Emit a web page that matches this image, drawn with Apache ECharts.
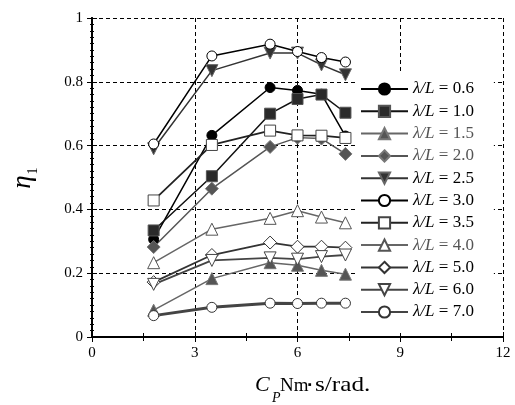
<!DOCTYPE html>
<head>
    <meta charset="utf-8">
    <title>ECharts</title>
</head>
<body style="margin:0">
   <div id="main" style="width:515px;height:405px"></div>
     <script src="https://cdn.jsdelivr.net/npm/echarts@6/dist/echarts.min.js"></script>
      <script type="text/javascript">

    // 横轴 C_P 取值
    var cp = [1.8, 3.5, 5.2, 6.0, 6.7, 7.4];
    var labels = ['0.6', '1.0', '1.5', '2.0', '2.5', '3.0', '3.5', '4.0', '5.0', '6.0', '7.0'];
    var eta06 = [0.306, 0.632, 0.782, 0.773, 0.761, 0.63];
    var eta10 = [0.334, 0.504, 0.700, 0.746, 0.760, 0.703];
    var eta15 = [0.084, 0.183, 0.233, 0.225, 0.209, 0.197];
    var eta20 = [0.282, 0.465, 0.596, 0.625, 0.622, 0.574];
    var eta25 = [0.590, 0.835, 0.890, 0.890, 0.853, 0.822];
    var eta30 = [0.605, 0.881, 0.918, 0.895, 0.876, 0.862];
    var eta35 = [0.428, 0.602, 0.647, 0.632, 0.631, 0.624];
    var eta40 = [0.233, 0.338, 0.372, 0.396, 0.376, 0.358];
    var eta50 = [0.172, 0.257, 0.296, 0.283, 0.283, 0.280];
    var eta60 = [0.165, 0.240, 0.248, 0.244, 0.252, 0.257];
    var eta70 = [0.067, 0.093, 0.106, 0.105, 0.106, 0.106];

    var font = '"Liberation Serif", "Times New Roman", serif';

    function pairs(ys) {
        return cp.map(function (x, i) { return [x, ys[i]]; });
    }

    // 每条曲线的样式
    var styles = [
        {d: eta06, line: '#000', fill: '#000', border: '#000', sym: 'circle', size: 10, rot: 0, w: 1.5, text: '#000'},
        {d: eta10, line: '#111', fill: '#2a2a2a', border: '#555', sym: 'rect', size: 11, rot: 0, w: 1.5, text: '#000'},
        {d: eta15, line: '#666', fill: '#555', border: '#777', sym: 'triangle', size: 12, rot: 0, w: 1.5, text: '#555'},
        {d: eta20, line: '#555', fill: '#555', border: '#777', sym: 'diamond', size: 13, rot: 0, w: 1.5, text: '#555'},
        {d: eta25, line: '#333', fill: '#333', border: '#666', sym: 'triangle', size: 12, rot: 180, w: 1.5, text: '#000'},
        {d: eta30, line: '#000', fill: '#fff', border: '#000', sym: 'circle', size: 10, rot: 0, w: 1.5, text: '#000'},
        {d: eta35, line: '#222', fill: '#fff', border: '#444', sym: 'rect', size: 11, rot: 0, w: 1.8, text: '#000'},
        {d: eta40, line: '#666', fill: '#fff', border: '#555', sym: 'triangle', size: 12, rot: 0, w: 1.5, text: '#555'},
        {d: eta50, line: '#333', fill: '#fff', border: '#333', sym: 'diamond', size: 13, rot: 0, w: 1.8, text: '#000'},
        {d: eta60, line: '#444', fill: '#fff', border: '#444', sym: 'triangle', size: 12, rot: 180, w: 1.8, text: '#000'},
        {d: eta70, line: '#444', fill: '#fff', border: '#333', sym: 'circle', size: 10, rot: 0, w: 3, text: '#000'}
    ];

    var series = [];
    var legendData = [];
    for (var i = 0; i < styles.length; i++) {
        var s = styles[i];
        var name = 'λ/L = ' + labels[i];
        series.push({
            name: name,
            type: 'line',
            data: pairs(s.d),
            symbol: s.sym,
            symbolSize: s.size,
            symbolRotate: s.rot,
            lineStyle: {color: s.line, width: s.w},
            itemStyle: {color: s.fill, borderColor: s.border, borderWidth: 1},
            emphasis: {disabled: true},
            animation: false
        });
        legendData.push({name: name, textStyle: {color: s.text}});
    }

    var myChart = echarts.init(document.getElementById("main"));
    var dashed = {show: true, lineStyle: {color: '#000', type: [4, 3], width: 1}};
    var option = {
        animation: false,
        grid: {left: 92, top: 18, width: 411, height: 319},
        legend: {
            data: legendData,
            orient: 'vertical',
            left: 355,
            top: 73,
            padding: [5, 20, 10, 5],
            backgroundColor: '#fff',
            itemWidth: 47,
            itemHeight: 14,
            itemGap: 0.3,
            selectedMode: false,
            textStyle: {fontFamily: font, fontSize: 17, lineHeight: 22,
                rich: {i: {fontStyle: 'italic', fontFamily: font, fontSize: 17}}},
            formatter: function (n) {
                return '{i|λ/L}' + n.slice(3);
            }
        },
        xAxis: [
            {
                type: 'value', min: 0, max: 12, interval: 3,
                axisLine: {lineStyle: {color: '#000', width: 2}},
                axisTick: {inside: true, length: 5, lineStyle: {color: '#000'}},
                minorTick: {show: true, splitNumber: 2, length: 4, lineStyle: {color: '#000'}},
                axisLabel: {fontFamily: font, fontSize: 15, color: '#000', margin: 9},
                splitLine: dashed
            },
            {
                type: 'value', min: 0, max: 12, interval: 3, position: 'top',
                axisLine: {lineStyle: {color: '#000', width: 2}},
                axisTick: {inside: true, length: 5, lineStyle: {color: '#000'}},
                minorTick: {show: true, splitNumber: 2, length: 4, lineStyle: {color: '#000'}},
                axisLabel: {show: false},
                splitLine: {show: false}
            }
        ],
        yAxis: [
            {
                type: 'value', min: 0, max: 1, interval: 0.2,
                axisLine: {lineStyle: {color: '#000', width: 2}},
                axisTick: {inside: true, length: 5, lineStyle: {color: '#000'}},
                minorTick: {show: true, splitNumber: 10, length: 2, lineStyle: {color: '#000'}},
                axisLabel: {fontFamily: font, fontSize: 15, color: '#000', margin: 9},
                splitLine: dashed
            },
            {
                type: 'value', min: 0, max: 1, interval: 0.2, position: 'right',
                axisLine: {lineStyle: {color: '#000', width: 2}},
                axisTick: {inside: true, length: 5, lineStyle: {color: '#000'}},
                minorTick: {show: true, splitNumber: 10, length: 2, lineStyle: {color: '#000'}},
                axisLabel: {show: false},
                splitLine: {show: false}
            }
        ],
        graphic: [
            {
                type: 'group', x: 23, y: 182, rotation: Math.PI / 2,
                children: [
                    {type: 'text', x: 0, y: 0, style: {text: 'η', font: 'italic 27px ' + font, fill: '#000', align: 'center', verticalAlign: 'middle'}},
                    {type: 'text', x: 11, y: 10, style: {text: '1', font: '14px ' + font, fill: '#000', align: 'center', verticalAlign: 'middle'}}
                ]
            },
            {type: 'text', x: 255, y: 374, style: {text: 'C', font: 'italic 22px ' + font, fill: '#000'}},
            {type: 'text', x: 272, y: 391, style: {text: 'P', font: 'italic 14px ' + font, fill: '#000'}},
            {type: 'text', x: 280, y: 377, style: {text: 'Nm', font: '19px ' + font, fill: '#000'}},
            {type: 'text', x: 308, y: 380, style: {text: '▪', font: '11px ' + font, fill: '#000'}},
            {type: 'text', x: 315, y: 375, scaleX: 1.2, style: {text: 's/rad.', font: '21px ' + font, fill: '#000'}}
        ],
        series: series
    };
    myChart.setOption(option);

</script>
</body>
